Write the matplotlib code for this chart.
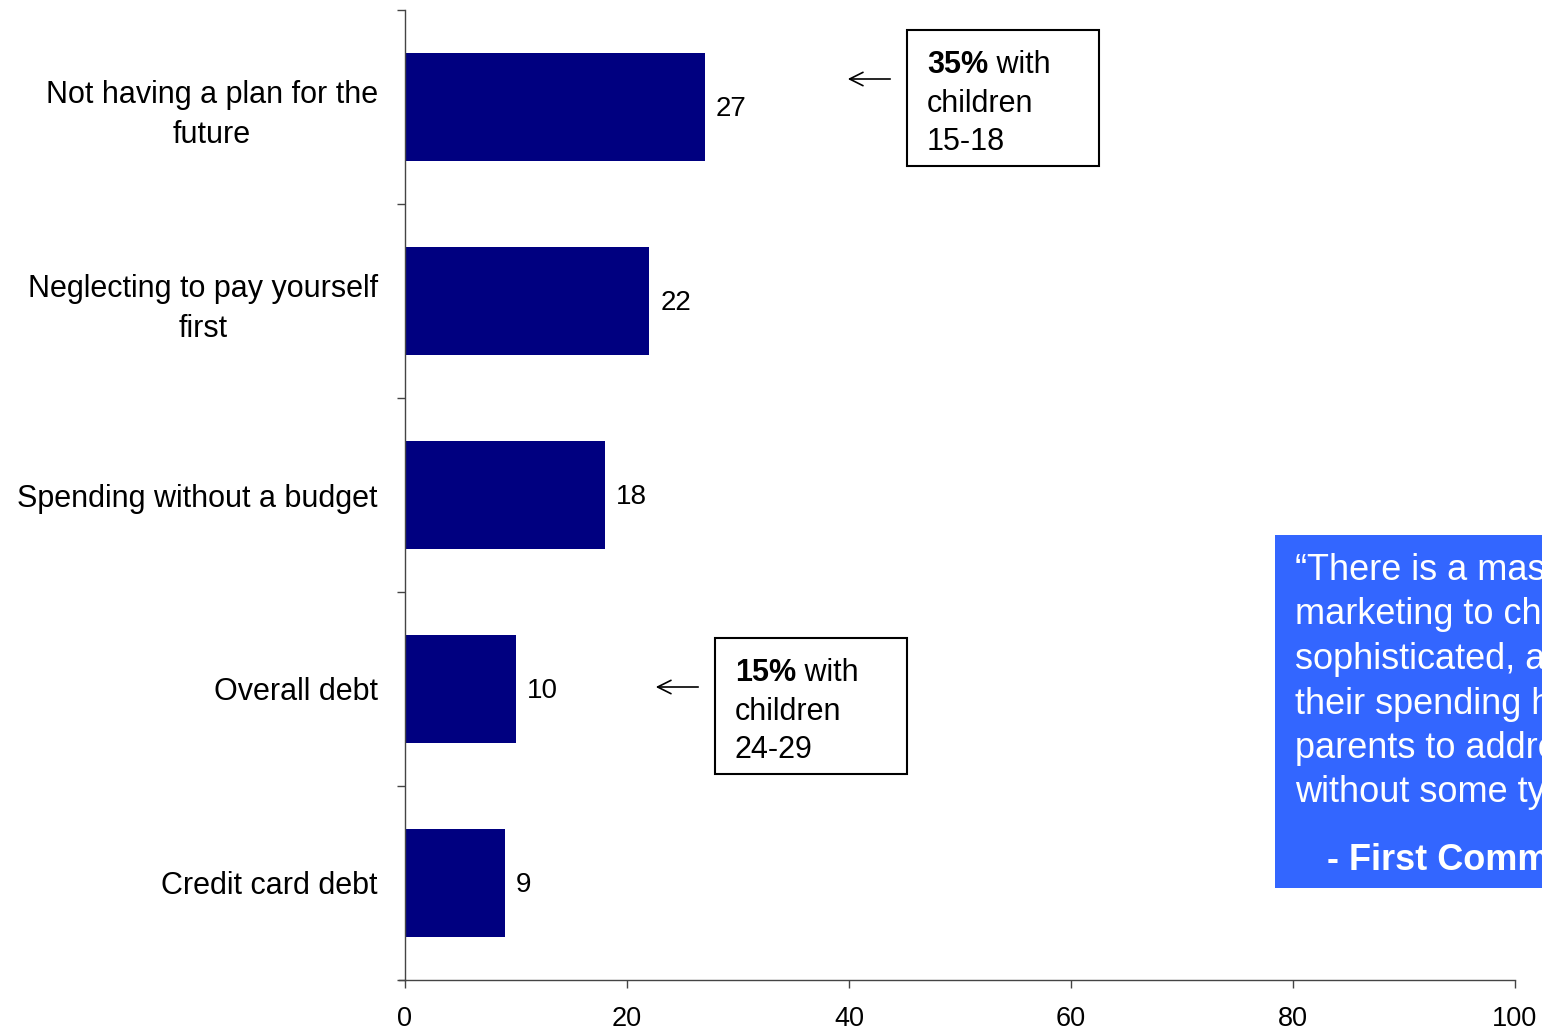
import numpy as np
import matplotlib
matplotlib.use('Agg')
import matplotlib.pyplot as plt
from matplotlib.patches import Rectangle, FancyArrowPatch

plt.rcParams['font.family'] = ['Liberation Sans', 'DejaVu Sans']

categories = ['Not having a plan for the\nfuture', 'Neglecting to pay yourself\nfirst',
              'Spending without a budget', 'Overall debt', 'Credit card debt']
values = [27, 22, 18, 10, 9]
x_ticks = [0, 20, 40, 60, 80, 100]

quote_lines = ['\u201cThere is a massive amount of', 'marketing to children that is very',
               'sophisticated, and if children learn', 'their spending habits from it, it is hard for',
               'parents to address those habits', 'without some type of plan.\u201d']
quote_source = '- First Command'

W, H = 1542, 1032
fig = plt.figure(figsize=(W / 100, H / 100), dpi=100)
ax = fig.add_axes([405 / W, 52 / H, 1110 / W, 970 / H])

y = np.arange(len(categories))
ax.barh(y, values, height=0.56, color='#000080')
for yi, v in zip(y, values):
    ax.text(v + 1.0, yi + 0.01, str(v), va='center', ha='left', fontsize=20)

ax.set_xlim(0, 100)
ax.set_ylim(len(categories) - 0.5, -0.5)
ax.set_xticks(x_ticks)
ax.set_xticklabels([str(t) for t in x_ticks], fontsize=19.5)
ax.set_yticks(y)
ax.set_yticklabels(categories, fontsize=22, multialignment='center', linespacing=1.4)
ax.set_yticks(np.arange(-0.5, len(categories)), minor=True)
ax.tick_params(axis='y', which='major', length=0, pad=19.5)
ax.tick_params(axis='y', which='minor', length=6, width=1, color='#444444')
ax.tick_params(axis='x', length=6, width=1, color='#444444', pad=13)
for s in ['top', 'right']:
    ax.spines[s].set_visible(False)
for s in ['left', 'bottom']:
    ax.spines[s].set_color('#444444')
    ax.spines[s].set_linewidth(1)
# little stub of x axis left of the y axis
fig.add_artist(plt.Line2D([399 / W, 405 / W], [52 / H, 52 / H], color='#444444', lw=1))


def px(x, yy):
    return x / W, 1 - yy / H


def note_box(x0, y0, x1, y1, pct, ages, arrow_from, arrow_to, arrow_y):
    fig.add_artist(Rectangle(px(x0, y1), (x1 - x0) / W, (y1 - y0) / H, transform=fig.transFigure,
                             fill=False, edgecolor='black', lw=1.5))
    t = fig.text(*px(x0 + 20, y0 + 43), pct, fontsize=22, fontweight='bold', va='baseline')
    ax.annotate(' with', xy=(1, 0), xycoords=t, fontsize=22, va='bottom', ha='left',
                annotation_clip=False)
    fig.text(*px(x0 + 20, y0 + 82), 'children', fontsize=22, va='baseline')
    fig.text(*px(x0 + 20, y0 + 120), ages, fontsize=22, va='baseline')
    fig.add_artist(FancyArrowPatch(px(arrow_from, arrow_y), px(arrow_to, arrow_y),
                                   transform=fig.transFigure, arrowstyle='->',
                                   mutation_scale=24, lw=1.2, color='black'))


note_box(907, 30, 1099, 166, '35%', '15-18', 893, 845, 79)
note_box(715, 638, 907, 774, '15%', '24-29', 701, 653, 687)

# quote box (runs off the right edge of the slide, as in the original)
fig.add_artist(Rectangle(px(1275, 888), 400 / W, (888 - 535) / H, transform=fig.transFigure,
                         facecolor='#3366FF', edgecolor='none'))
for i, line in enumerate(quote_lines):
    fig.text(*px(1295, 580 + i * 44.5), line, fontsize=26, color='white', va='baseline')
fig.text(*px(1327, 870), quote_source, fontsize=26, color='white', fontweight='bold', va='baseline')

fig.savefig('out.png', dpi=100)
